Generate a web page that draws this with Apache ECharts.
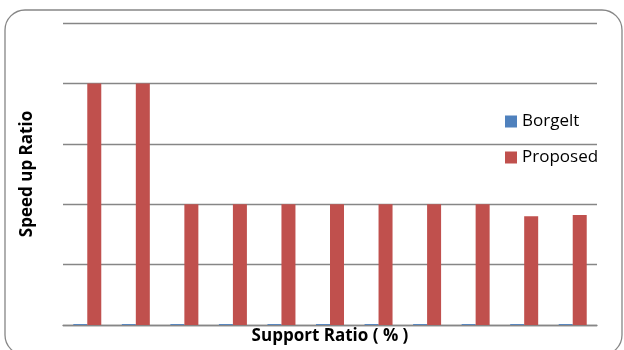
<!DOCTYPE html>
<html>
<head>
<meta charset="utf-8">
<script src="https://cdn.jsdelivr.net/npm/echarts@6/dist/echarts.min.js"></script>
<style>
html,body{margin:0;padding:0;background:#fff;}
#main{width:624px;height:350px;}
</style>
</head>
<body>
<div id="main"></div>
<script>
// 数据
var categories = ['1','2','3','4','5','6','7','8','9','10','11'];
var borgelt = [0.015,0.015,0.015,0.015,0.015,0.015,0.015,0.015,0.015,0.015,0.015];
var proposed = [4,4,2,2,2,2,2,2,2,1.8,1.82];

var myChart = echarts.init(document.querySelector('#main'));

var option = {
    animation: false,
    textStyle: {fontFamily: 'Open Sans'},
    graphic: [{
        type: 'rect',
        shape: {x: 5, y: 10, width: 617, height: 345, r: 20},
        style: {fill: 'none', stroke: '#868686', lineWidth: 1.3},
        silent: true
    }],
    legend: {
        orient: 'vertical',
        left: 505,
        top: 113,
        padding: 0,
        itemWidth: 12,
        itemHeight: 12,
        itemGap: 19,
        icon: 'rect',
        textStyle: {fontSize: 17, color: '#000', fontFamily: 'Open Sans'},
        data: ['Borgelt', 'Proposed']
    },
    grid: {left: 63, right: 27, top: 23, bottom: 25, outerBoundsMode: 'none'},
    xAxis: {
        type: 'category',
        data: categories,
        name: 'Support Ratio ( % )',
        nameLocation: 'middle',
        nameGap: 3,
        nameTextStyle: {fontSize: 17, fontWeight: 'bold', color: '#000'},
        axisLine: {lineStyle: {color: '#868686', width: 1.3}},
        axisTick: {show: false},
        axisLabel: {show: false}
    },
    yAxis: {
        type: 'value',
        min: 0,
        max: 5,
        interval: 1,
        name: 'Speed up Ratio',
        nameLocation: 'middle',
        nameGap: 27,
        nameTextStyle: {fontSize: 17, fontWeight: 'bold', color: '#000'},
        axisLine: {show: false},
        axisTick: {show: false},
        axisLabel: {show: false},
        splitLine: {lineStyle: {color: '#868686', width: 1.3}}
    },
    series: [
        {
            name: 'Borgelt',
            type: 'bar',
            data: borgelt,
            barWidth: 14,
            barGap: '0%',
            itemStyle: {color: '#4f81bd'}
        },
        {
            name: 'Proposed',
            type: 'bar',
            data: proposed,
            barWidth: 14,
            itemStyle: {color: '#c0504d'}
        }
    ]
};

myChart.setOption(option);
</script>
</body>
</html>
